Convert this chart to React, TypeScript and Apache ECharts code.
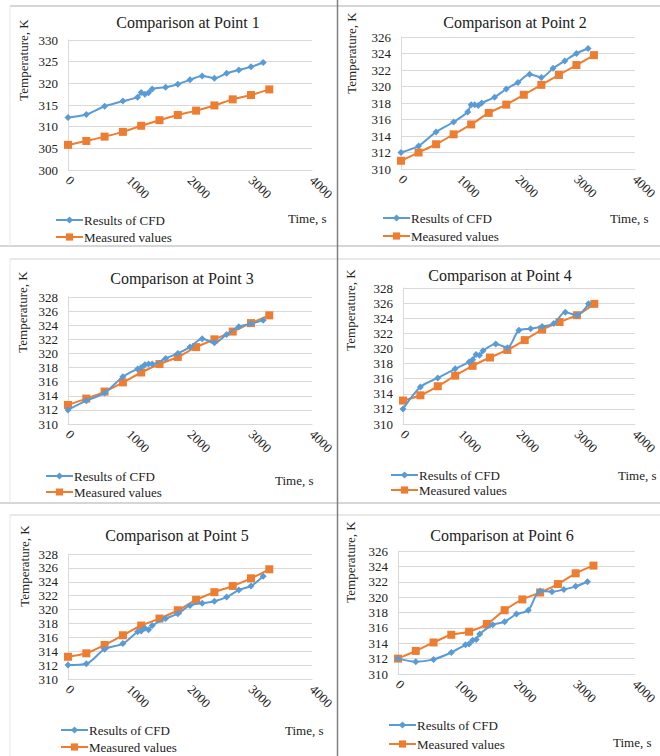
import React, { useEffect, useRef } from "react";
import * as echarts from "echarts";

// ---- data ----
const cfdTimes = [0, 300, 600, 900, 1140, 1200, 1260, 1320, 1380, 1600, 1800, 2000, 2200, 2400, 2600, 2800, 3000, 3200];
const measuredTimes = [0, 300, 600, 900, 1200, 1500, 1800, 2100, 2400, 2700, 3000, 3300];

const cfdP1 = [312.1, 312.8, 314.7, 315.9, 316.8, 317.9, 317.5, 317.8, 318.7, 319.1, 319.8, 320.8, 321.7, 321.2, 322.3, 323.1, 323.8, 324.8];
const measuredP1 = [305.8, 306.7, 307.7, 308.8, 310.2, 311.5, 312.7, 313.7, 314.9, 316.3, 317.3, 318.6];

const cfdP2 = [312.0, 312.8, 314.5, 315.7, 316.9, 317.8, 317.8, 317.7, 318.0, 318.7, 319.7, 320.5, 321.5, 321.1, 322.2, 323.1, 324.0, 324.6];
const measuredP2 = [311.0, 312.0, 313.0, 314.2, 315.4, 316.8, 317.8, 319.0, 320.2, 321.4, 322.6, 323.8];

const cfdP3 = [312.0, 313.3, 314.4, 316.7, 317.8, 318.0, 318.4, 318.5, 318.5, 319.3, 320.0, 320.9, 322.1, 321.5, 322.7, 323.8, 324.2, 324.7];
const measuredP3 = [312.7, 313.6, 314.6, 315.9, 317.3, 318.5, 319.5, 320.9, 322.0, 323.1, 324.3, 325.4];

const cfdP4 = [312.0, 314.9, 316.1, 317.3, 318.2, 318.5, 319.2, 319.1, 319.7, 320.6, 320.1, 322.4, 322.6, 322.9, 323.3, 324.8, 324.4, 325.9];
const measuredP4 = [313.1, 313.8, 315.0, 316.4, 317.7, 318.8, 319.8, 321.1, 322.5, 323.5, 324.4, 325.9];

const cfdP5 = [312.0, 312.2, 314.3, 315.1, 316.8, 316.9, 317.3, 317.1, 317.7, 318.7, 319.4, 320.6, 320.9, 321.2, 321.8, 322.8, 323.4, 324.8];
const measuredP5 = [313.2, 313.7, 314.9, 316.3, 317.7, 318.7, 319.9, 321.4, 322.5, 323.4, 324.5, 325.8];

const cfdP6 = [312.0, 311.6, 311.9, 312.8, 313.8, 313.9, 314.4, 314.5, 315.2, 316.4, 316.8, 317.8, 318.3, 320.8, 320.7, 321.0, 321.4, 322.0];
const measuredP6 = [312.0, 313.0, 314.1, 315.1, 315.5, 316.5, 318.3, 319.7, 320.6, 321.7, 323.1, 324.1];

const cfdSeries = [cfdP1, cfdP2, cfdP3, cfdP4, cfdP5, cfdP6];
const measuredSeries = [measuredP1, measuredP2, measuredP3, measuredP4, measuredP5, measuredP6];

const panelTitles = [
  "Comparison at Point 1",
  "Comparison at Point 2",
  "Comparison at Point 3",
  "Comparison at Point 4",
  "Comparison at Point 5",
  "Comparison at Point 6",
];
// [min, max, interval] of each temperature axis
const yAxisRanges = [
  [300, 330, 5],
  [310, 326, 2],
  [310, 328, 2],
  [310, 328, 2],
  [310, 328, 2],
  [310, 326, 2],
];
const xAxisRange = [0, 4000, 1000];

const seriesNames = ["Results of CFD", "Measured values"];
const yAxisName = "Temperature, K";
const xAxisName = "Time, s";

// ---- layout (pixels) ----
const layout = [
  { grid: { left: 68, top: 40, width: 244, height: 130 }, title: [188, 22], yName: [23, 60], xName: [288, 218], legend: [55, 213, 3] },
  { grid: { left: 401, top: 37, width: 238, height: 132 }, title: [515, 22], yName: [351, 53], xName: [610, 218], legend: [382, 211, 4] },
  { grid: { left: 68, top: 297, width: 244, height: 127 }, title: [182, 278], yName: [22, 312], xName: [275, 480], legend: [45, 469, 2] },
  { grid: { left: 403, top: 288, width: 239, height: 136 }, title: [500, 275], yName: [350, 310], xName: [618, 475], legend: [390, 468, 1] },
  { grid: { left: 68, top: 554, width: 244, height: 125 }, title: [177, 535], yName: [24, 566], xName: [285, 730], legend: [60, 723, 3] },
  { grid: { left: 398, top: 551, width: 244, height: 123 }, title: [502, 535], yName: [350, 562], xName: [613, 742], legend: [388, 718, 5] },
];

const FONT = "'Liberation Serif', 'Times New Roman', serif";
const TEXT = "#222222";
const BLUE = "#5B9BD5";
const ORANGE = "#ED7D31";
const GRIDC = "#d9d9d9";

export default function App() {
  const ref = useRef<HTMLDivElement>(null);

  useEffect(() => {
    if (!ref.current) return;
    const chart = echarts.init(ref.current, undefined, { renderer: "svg" });

    const grids = layout.map((l) => ({ ...l.grid, containLabel: false }));
    const xAxes = layout.map((_, i) => ({
      type: "value",
      gridIndex: i,
      min: xAxisRange[0],
      max: xAxisRange[1],
      interval: xAxisRange[2],
      axisLine: { show: true, onZero: false, lineStyle: { color: GRIDC, width: 1 } },
      axisTick: { show: false },
      splitLine: { show: false },
      axisLabel: {
        rotate: -45,
        fontSize: 13,
        fontFamily: FONT,
        color: TEXT,
        margin: 8,
        formatter: (v: number) => String(v),
      },
    }));
    const yAxes = layout.map((_, i) => ({
      type: "value",
      gridIndex: i,
      min: yAxisRanges[i][0],
      max: yAxisRanges[i][1],
      interval: yAxisRanges[i][2],
      axisLine: { show: true, lineStyle: { color: GRIDC, width: 1 } },
      axisTick: { show: false },
      splitLine: { show: true, lineStyle: { color: GRIDC, width: 1 } },
      axisLabel: { fontSize: 13, fontFamily: FONT, color: TEXT, margin: 10, formatter: (v: number) => String(v) },
    }));

    const series: any[] = [];
    layout.forEach((_, i) => {
      series.push({
        type: "line",
        name: seriesNames[0],
        xAxisIndex: i,
        yAxisIndex: i,
        data: cfdTimes.map((t, k) => [t, cfdSeries[i][k]]),
        smooth: 0.3,
        symbol: "diamond",
        symbolSize: 7,
        lineStyle: { color: BLUE, width: 2 },
        itemStyle: { color: BLUE },
        z: 3,
      });
      series.push({
        type: "line",
        name: seriesNames[1],
        xAxisIndex: i,
        yAxisIndex: i,
        data: measuredTimes.map((t, k) => [t, measuredSeries[i][k]]),
        smooth: 0.3,
        symbol: "rect",
        symbolSize: 8,
        lineStyle: { color: ORANGE, width: 2 },
        itemStyle: { color: ORANGE },
        z: 2,
      });
    });

    const legends = layout.map((l) => ({
      orient: "vertical",
      left: l.legend[0],
      top: l.legend[1],
      height: 40,
      padding: 0,
      itemWidth: 27,
      itemHeight: 9,
      itemGap: l.legend[2],
      selectedMode: false,
      data: seriesNames,
      textStyle: { fontFamily: FONT, fontSize: 13, color: TEXT, lineHeight: 14, padding: [0, 0, 0, -4] },
    }));

    const graphics: any[] = [];
    const hline = (y: number, x1: number, x2: number, color: string, w: number) =>
      graphics.push({ type: "line", shape: { x1, y1: y, x2, y2: y }, style: { stroke: color, lineWidth: w }, silent: true });
    const vline = (x: number, y1: number, y2: number, color: string, w: number) =>
      graphics.push({ type: "line", shape: { x1: x, y1, x2: x, y2 }, style: { stroke: color, lineWidth: w }, silent: true });

    hline(6, 10, 660, "#d6d6d6", 2);
    hline(246, 0, 660, "#d6d6d6", 2);
    hline(259, 10, 660, "#e2e2e2", 1.5);
    hline(503, 0, 660, "#d6d6d6", 2);
    hline(515, 10, 660, "#e2e2e2", 1.5);
    vline(10, 6, 246, "#e8e8e8", 1);
    vline(10, 259, 503, "#e8e8e8", 1);
    vline(10, 515, 756, "#e8e8e8", 1);
    vline(337.5, 0, 756, "#808080", 1.5);

    layout.forEach((l, i) => {
      graphics.push({
        type: "text",
        x: l.title[0],
        y: l.title[1],
        style: { text: panelTitles[i], fontFamily: FONT, fontSize: 16, fill: TEXT, align: "center", verticalAlign: "middle" },
      });
      graphics.push({
        type: "text",
        x: l.yName[0],
        y: l.yName[1],
        rotation: Math.PI / 2,
        style: { text: yAxisName, fontFamily: FONT, fontSize: 13, fill: TEXT, align: "center", verticalAlign: "middle" },
      });
      graphics.push({
        type: "text",
        x: l.xName[0],
        y: l.xName[1],
        style: { text: xAxisName, fontFamily: FONT, fontSize: 13, fill: TEXT, align: "left", verticalAlign: "middle" },
      });
    });

    chart.setOption({
      animation: false,
      backgroundColor: "#ffffff",
      grid: grids,
      xAxis: xAxes,
      yAxis: yAxes,
      legend: legends,
      series,
      graphic: graphics,
    });

    return () => chart.dispose();
  }, []);

  return (
    <div
      ref={ref}
      style={{ position: "fixed", left: 0, top: 0, width: 660, height: 756, background: "#fff" }}
    />
  );
}
